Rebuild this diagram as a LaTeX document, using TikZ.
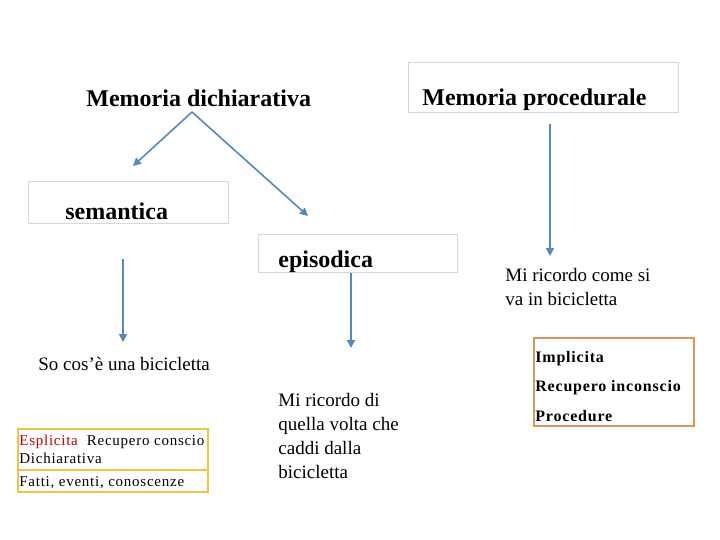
\documentclass[tikz,border=0pt]{standalone}
\usepackage{fontspec}
\setmainfont{Liberation Serif}
\newfontfamily\esplfont[LetterSpace=5]{Liberation Serif}
\newfontfamily\implfont[LetterSpace=5]{Liberation Serif}
\usetikzlibrary{arrows.meta}
\definecolor{blufreccia}{RGB}{84,136,195}
\definecolor{bordo}{RGB}{205,218,226}
\definecolor{giallo}{RGB}{240,196,64}
\definecolor{arancio}{RGB}{218,150,92}
\definecolor{rosso}{RGB}{192,0,0}
\tikzset{every picture/.style={line width=0.75pt}}

\begin{document}
\begin{tikzpicture}[x=1pt,y=-1pt,
    titolo/.style={font=\fontsize{24}{28}\selectfont\bfseries, inner sep=0pt, anchor=base west},
    testo/.style={font=\fontsize{19}{24}\selectfont, inner sep=0pt, align=left},
    riquadro/.style={draw=bordo, anchor=north west, inner sep=0pt},
    ramo/.style={draw=blufreccia, line width=1.6pt, -{Triangle[length=8pt,width=8pt]}}]
    \useasboundingbox (0,0) rectangle (720,540);

    % memoria dichiarativa
    \node[titolo] (dich) at (86,107) {Memoria dichiarativa};
    \coordinate (dich-apice) at (192,112);

    % memoria procedurale
    \node[riquadro, minimum width=270pt, minimum height=50pt] (proc-box) at (408,62) {};
    \node[titolo] (proc) at (422,106) {Memoria procedurale};
    \coordinate (proc-coda) at (550,124);

    % semantica ed episodica
    \node[riquadro, minimum width=200pt, minimum height=42pt] (sem-box) at (28,181) {};
    \node[titolo] (sem) at (65,219) {semantica};
    \node[riquadro, minimum width=199pt, minimum height=38pt] (epi-box) at (258,234) {};
    \node[titolo] (epi) at (278,267) {episodica};
    \coordinate (sem-punta) at (133,166);
    \coordinate (epi-punta) at (308,216);
    \coordinate (sem-coda) at (123,259);
    \coordinate (epi-coda) at (351,273);

    % esempi
    \node[testo, anchor=north west] (come) at (505,268) {Mi ricordo come si\\va in bicicletta};
    \node[testo, anchor=base west] (cosa) at (38,370) {So cos’è una bicicletta};
    \node[testo, anchor=north west] (caddi) at (278,393) {Mi ricordo di\\quella volta che\\caddi dalla\\bicicletta};
    \coordinate (come-punta) at (550,256);
    \coordinate (cosa-punta) at (123,342);
    \coordinate (caddi-punta) at (351,348);

    % frecce
    \draw[ramo] (dich-apice) -- (sem-punta);
    \draw[ramo] (dich-apice) -- (epi-punta);
    \draw[ramo] (proc-coda) -- (come-punta);
    \draw[ramo] (sem-coda) -- (cosa-punta);
    \draw[ramo] (epi-coda) -- (caddi-punta);

    % riquadro giallo
    \node[draw=giallo, line width=2pt, anchor=north west, inner sep=0pt,
          minimum width=190pt, minimum height=41pt] (espl-box) at (17,428) {};
    \node[draw=giallo, line width=2pt, anchor=north west, inner sep=0pt,
          minimum width=190pt, minimum height=22pt] (fatti-box) at (17,469) {};
    \node[anchor=north west, inner sep=0pt, align=left, font={\fontsize{15}{18}\esplfont}]
        (espl) at (19,435) {\textcolor{rosso}{Esplicita}\ \ Recupero conscio\\Dichiarativa};
    \node[anchor=base west, inner sep=0pt, font={\fontsize{15}{18}\esplfont}]
        (fatti) at (19,486) {Fatti, eventi, conoscenze};

    % riquadro arancio
    \node[draw=arancio, line width=1.5pt, anchor=north west, inner sep=0pt,
          minimum width=160pt, minimum height=88pt] (impl-box) at (533,337) {};
    \node[anchor=north west, inner sep=0pt, align=left, font={\fontsize{16}{29.5}\implfont\bfseries}]
        (impl) at (535,351) {Implicita\\Recupero inconscio\\Procedure};
\end{tikzpicture}
\end{document}
